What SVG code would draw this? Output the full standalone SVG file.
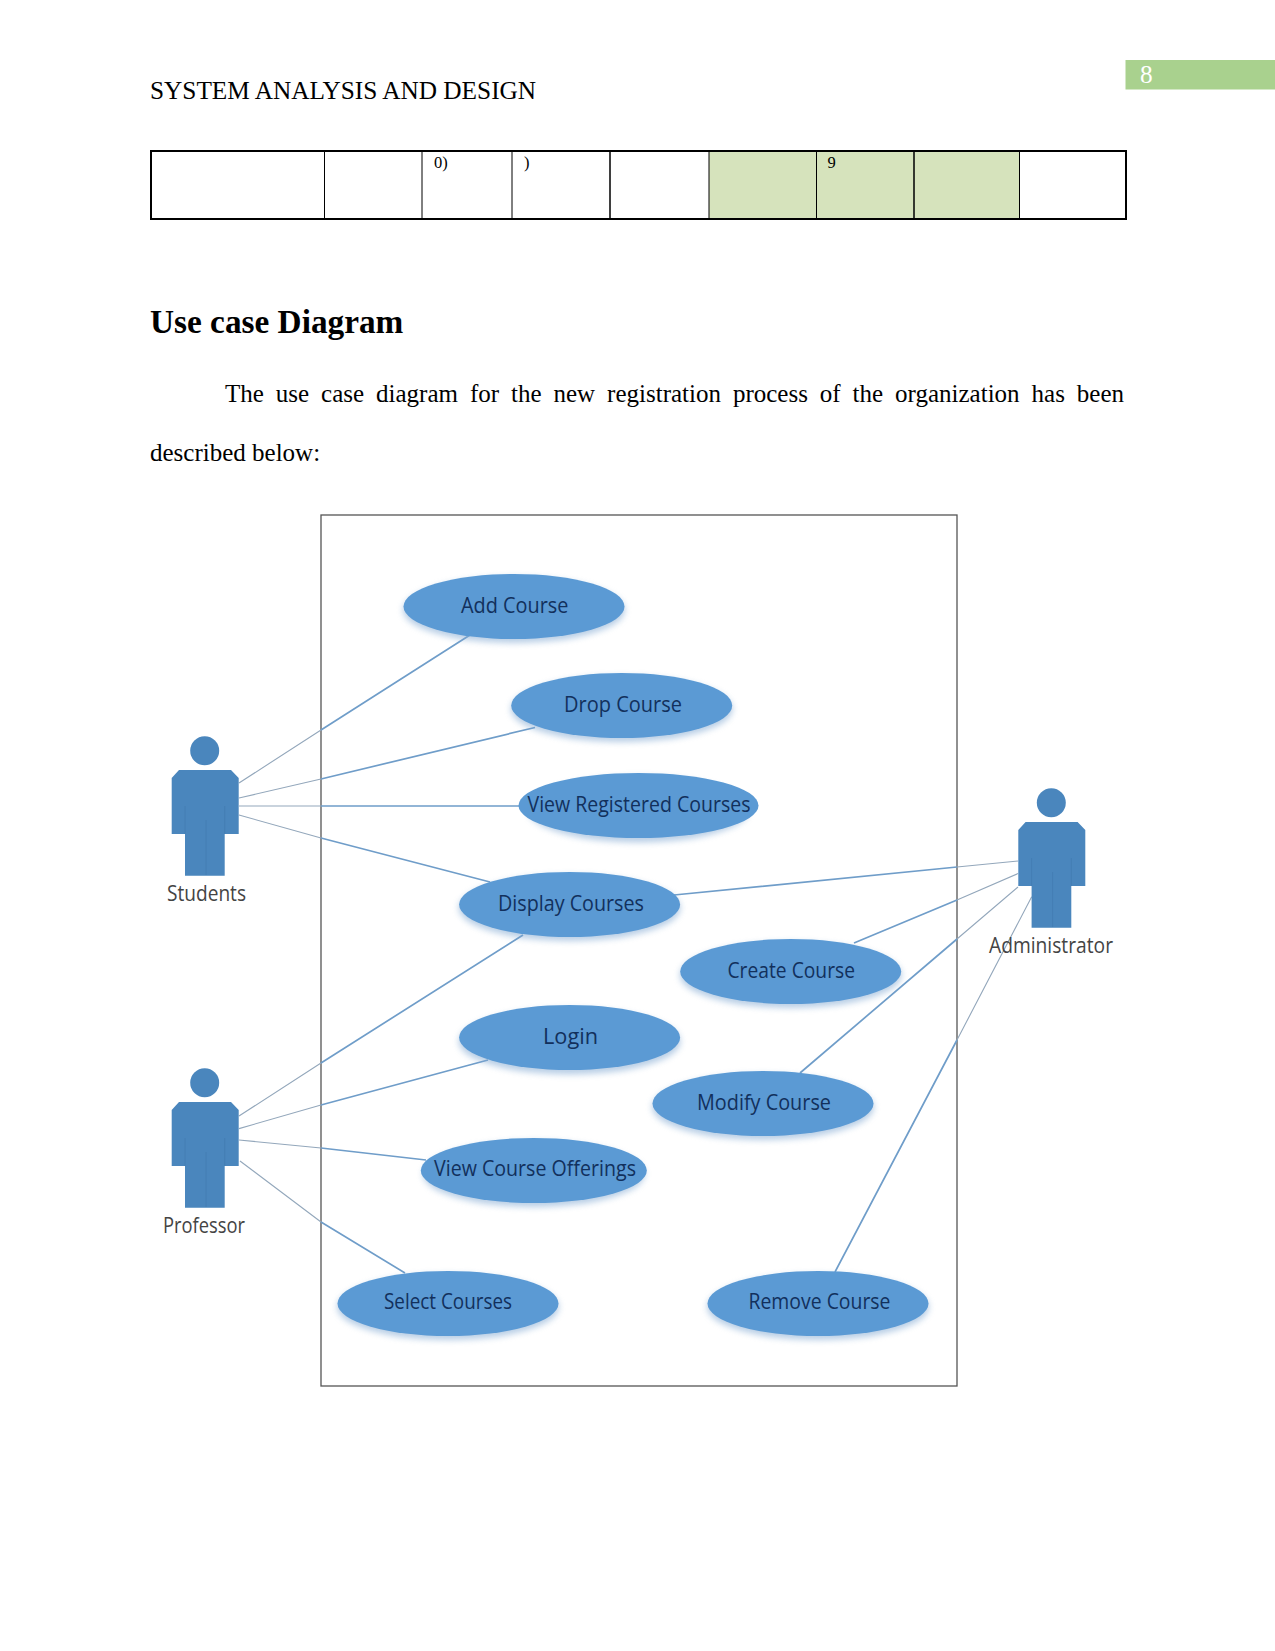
<svg xmlns="http://www.w3.org/2000/svg" width="1275" height="1651" viewBox="0 0 1275 1651">
<style>
.ts{font-family:"Liberation Serif","Times New Roman",serif;fill:#000}
.cell{font-size:16.5px}
.uc{fill:#5b9ad4}
.sh{fill:#7ea6d0;opacity:.55;filter:url(#b)}
.ul{font-family:"Open Sans","Liberation Sans",sans-serif;font-size:21px;fill:#12305c}
.al{font-family:"Open Sans","Liberation Sans",sans-serif;font-size:21px;fill:#444}
.out{stroke:#93a7bb;stroke-width:1.1;fill:none}
.in{stroke:#6f9dc9;stroke-width:1.7;fill:none}
.body{fill:#4a86bd}
.seam{stroke:#3f78ad;stroke-width:1;fill:none;opacity:.6}
</style>
<defs>
<filter id="b" x="-20%" y="-30%" width="140%" height="170%"><feGaussianBlur stdDeviation="3"/></filter>
<g id="actor">
<circle cx="204.7" cy="750.7" r="14.5" class="body"/>
<path class="body" d="M179 770H231L238.7 778V834H224.7V875.7H185V834H171.7V778Z"/>
<path class="seam" d="M185 806V834M224.7 806V834M206 820V875"/>
</g>
<g id="uc-shape"><ellipse cx="0" cy="4" rx="111" ry="33" class="sh"/></g>
</defs>
<rect width="1275" height="1651" fill="#fff"/>

<text class="ts" x="150" y="98.5" font-size="25.3" id="header">SYSTEM ANALYSIS AND DESIGN</text>
<rect x="1125.5" y="60" width="149.5" height="29.5" fill="#a9d18e"/>
<text class="ts" x="1140" y="83" font-size="25.3" style="fill:#fff">8</text>

<g id="table">
<rect x="709" y="151" width="311" height="68" fill="#d6e3bc"/>
<path d="M324.5 151V219M422 151V219M512 151V219M709 151V219M816.5 151V219M1019.5 151V219" stroke="#000" stroke-width="1"/>
<path d="M610 151V219M914 151V219" stroke="#000" stroke-width="1.5"/>
<rect x="151" y="151" width="975" height="68" fill="none" stroke="#000" stroke-width="2"/>
<text class="ts cell" x="434" y="168">0)</text>
<text class="ts cell" x="524" y="168">)</text>
<text class="ts cell" x="827.5" y="168">9</text>
</g>

<text class="ts" x="150" y="333" font-size="33.3" font-weight="700">Use case Diagram</text>
<text class="ts" x="225" y="402" font-size="25" word-spacing="5.7">The use case diagram for the new registration process of the organization has been</text>
<text class="ts" x="150" y="460.5" font-size="25">described below:</text>

<rect id="system-boundary" x="321" y="515" width="636" height="871" fill="#fff" stroke="#555" stroke-width="1.3"/>

<g id="connectors">
<path class="out" d="M239 783L321 730M239 798L321 779M239 806H321M239 815L321 838"/>
<path class="in" d="M321 730L470 635M321 779L535 727.5M321 806H519M321 838L490 882"/>
<path class="out" d="M239 1116L321 1063M239 1128.6L321 1105M239 1140L321 1148M240 1161L321 1222"/>
<path class="in" d="M321 1063L523 935M321 1105L488 1060M321 1148L426 1160M321 1222L405 1273"/>
<path class="out" d="M1018 861L957 867M1018 873.6L957 900M1018 887L957 939M1031.7 896.7L957 1040"/>
<path class="in" d="M957 867L674 895M957 900L854 943M957 939L800 1073M957 1040L835 1272"/>
</g>

<g id="actor-students"><use href="#actor"/><text class="al" x="167" y="900.5" textLength="79" lengthAdjust="spacingAndGlyphs">Students</text></g>
<g id="actor-professor"><use href="#actor" y="332"/><text class="al" x="163" y="1233" textLength="82" lengthAdjust="spacingAndGlyphs">Professor</text></g>
<g id="actor-administrator"><use href="#actor" x="846.6" y="52"/><text class="al" x="989" y="952.5" textLength="124" lengthAdjust="spacingAndGlyphs">Administrator</text></g>

<g id="uc-add-course"><use href="#uc-shape" x="514" y="606"/><ellipse class="uc" cx="514" cy="606.5" rx="110.5" ry="32.5"/><text class="ul" x="461" y="612.5" textLength="107.5" lengthAdjust="spacingAndGlyphs">Add Course</text></g>
<g id="uc-drop-course"><use href="#uc-shape" x="621.7" y="705"/><ellipse class="uc" cx="621.7" cy="705.5" rx="110.5" ry="32.5"/><text class="ul" x="564" y="711.5" textLength="118" lengthAdjust="spacingAndGlyphs">Drop Course</text></g>
<g id="uc-view-registered"><use href="#uc-shape" x="638.5" y="805.5"/><ellipse class="uc" cx="638.5" cy="805.5" rx="120" ry="32.5"/><text class="ul" x="527.5" y="811.5" textLength="223" lengthAdjust="spacingAndGlyphs">View Registered Courses</text></g>
<g id="uc-display-courses"><use href="#uc-shape" x="569.6" y="904"/><ellipse class="uc" cx="569.6" cy="904.5" rx="110.5" ry="32.5"/><text class="ul" x="498" y="911" textLength="146" lengthAdjust="spacingAndGlyphs">Display Courses</text></g>
<g id="uc-create-course"><use href="#uc-shape" x="790.7" y="971"/><ellipse class="uc" cx="790.7" cy="971.5" rx="110.5" ry="32.5"/><text class="ul" x="727.5" y="977.5" textLength="127.5" lengthAdjust="spacingAndGlyphs">Create Course</text></g>
<g id="uc-login"><use href="#uc-shape" x="569.6" y="1037.5"/><ellipse class="uc" cx="569.6" cy="1037.5" rx="110.5" ry="32.5"/><text class="ul" x="543" y="1043.5" textLength="55" lengthAdjust="spacingAndGlyphs">Login</text></g>
<g id="uc-modify-course"><use href="#uc-shape" x="763" y="1103"/><ellipse class="uc" cx="763" cy="1103.5" rx="110.5" ry="32.5"/><text class="ul" x="697" y="1110" textLength="134" lengthAdjust="spacingAndGlyphs">Modify Course</text></g>
<g id="uc-view-offerings"><use href="#uc-shape" x="533.8" y="1170"/><ellipse class="uc" cx="533.8" cy="1170.5" rx="113" ry="32.5"/><text class="ul" x="434" y="1176" textLength="202" lengthAdjust="spacingAndGlyphs">View Course Offerings</text></g>
<g id="uc-select-courses"><use href="#uc-shape" x="448" y="1303"/><ellipse class="uc" cx="448" cy="1303.5" rx="110.5" ry="32.5"/><text class="ul" x="384" y="1309" textLength="128" lengthAdjust="spacingAndGlyphs">Select Courses</text></g>
<g id="uc-remove-course"><use href="#uc-shape" x="818" y="1303"/><ellipse class="uc" cx="818" cy="1303.5" rx="110.5" ry="32.5"/><text class="ul" x="748.5" y="1309" textLength="142" lengthAdjust="spacingAndGlyphs">Remove Course</text></g>
</svg>
